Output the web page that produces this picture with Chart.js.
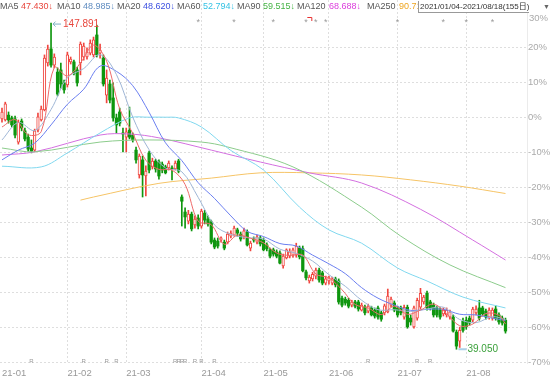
<!DOCTYPE html>
<html>
<head>
<meta charset="utf-8">
<script src="https://cdn.jsdelivr.net/npm/chart.js@4.4.1/dist/chart.umd.min.js"></script>
<style>
  body { margin: 0; background: #fff; }
  #wrap { position: relative; width: 553px; height: 378px; overflow: hidden;
          font-family: "Liberation Sans", Arial, "Noto Sans CJK SC", sans-serif; }
  #kChart { position: absolute; left: 0; top: 0; }
  .hd { position: absolute; top: 1px; font-size: 9px; line-height: 11px; white-space: nowrap; }
  .lbl { color: #555; }
  #range { position: absolute; left: 418px; top: 0; width: 135px; height: 13px; background: #fff; }
  #range span { position: absolute; top: 1px; font-size: 8px; line-height: 11px; white-space: nowrap; color: #333; }
  #range .box { left: 0; border-left: 1px solid #999; border-bottom: 1px solid #999; padding-left: 1px; }
  #range .arr { left: 125px; color: #666; font-size: 7px; top: 1px; }
</style>
</head>
<body>
<div id="wrap">
  <canvas id="kChart" width="553" height="378"></canvas>
  <div id="head"></div>
  <div id="range"><span class="box">2021/01/04-2021/08/18(155日)</span><span class="arr">▼</span></div>
</div>
<script>
// x axis: trading day index, month starts
const monthDays = [0, 20, 38, 61, 80, 100, 121, 142];
const monthLabels = ['21-01', '21-02', '21-03', '21-04', '21-05', '21-06', '21-07', '21-08'];
const yTicks = [-70, -60, -50, -40, -30, -20, -10, 0, 10, 20, 30];

// daily candles, % change
const openP = [-0.5, -0.8, 0.6, -0.2, -0.5, -7.1, -1.1, -3.9, -5.7, -8.8,
  -9.4, -3.7, -0.8, 2.1, 15.5, 19.5, 14.9, 12.9, 13.5, 9.8,
  9.2, 15.8, 15.8, 13.5, 15.5, 17.2, 17.2, 18.3, 17.8, 23.5,
  18.3, 16.9, 6.3, 9.5, 5.5, -0.2, 1.5, -4.5, -5.7, -3.7,
  -5.1, -9.4, -16.5, -12.2, -16.8, -10.2, -14.2, -12.5, -12.8, -13.4,
  -14.2, -14.5, -14.5, -14.8, -12.5, -22.8, -27.1, -29.7, -27.7, -30.8,
  -28.8, -31.1, -27.4, -29.1, -29.9, -35.1, -35.4, -35.1, -35.7, -35.7,
  -34.0, -33.7, -32.2, -33.4, -34.2, -32.8, -37.4, -34.8, -35.7, -34.5,
  -35.1, -36.5, -37.9, -37.9, -38.5, -38.8, -42.5, -40.2, -39.7, -39.4,
  -39.4, -37.4, -37.6, -44.2, -46.8, -46.2, -45.4, -43.7, -44.5, -47.4,
  -46.8, -47.4, -46.2, -46.8, -51.7, -52.0, -52.3, -53.7, -52.8, -52.8,
  -55.1, -54.2, -55.4, -54.5, -55.1, -54.5, -55.9, -55.9, -55.6, -53.7,
  -53.1, -54.5, -54.5, -57.1, -54.3, -57.4, -59.9, -57.4, -54.3, -52.8,
  -50.3, -52.8, -53.7, -54.5, -55.1, -56.2, -56.5, -57.1, -57.1, -61.4,
  -64.0, -58.3, -58.0, -57.4, -58.0, -55.9, -54.5, -54.5, -55.4, -57.1,
  -57.4, -54.8, -56.5, -57.4, -58.0];
const closeP = [1.5, 3.8, -0.8, -2.2, -5.1, -1.4, -3.1, -6.2, -9.1, -9.7,
  -3.9, 0.1, 2.3, 16.9, 19.5, 14.9, 17.2, 6.6, 9.5, 7.8,
  17.8, 16.6, 12.6, 9.8, 20.9, 20.3, 18.6, 21.2, 22.1, 17.8,
  19.2, 9.5, 11.2, 4.9, -0.2, -2.2, -1.7, -4.8, -4.2, -5.7,
  -6.5, -12.2, -11.1, -16.5, -15.4, -15.1, -12.5, -14.8, -16.8, -15.1,
  -15.9, -13.1, -14.8, -13.1, -15.4, -24.0, -28.5, -27.7, -31.9, -29.1,
  -31.1, -26.8, -29.4, -30.5, -35.7, -37.1, -36.8, -34.5, -37.4, -33.4,
  -33.1, -31.7, -33.1, -34.8, -32.5, -36.5, -36.0, -35.1, -34.2, -36.2,
  -37.9, -37.6, -39.7, -39.1, -39.7, -41.7, -39.7, -37.9, -38.5, -37.9,
  -36.8, -39.9, -43.9, -45.9, -45.7, -44.9, -43.7, -46.5, -47.4, -46.2,
  -45.9, -46.2, -47.9, -52.8, -53.7, -53.1, -54.0, -52.8, -54.0, -54.8,
  -53.7, -55.9, -54.0, -56.5, -56.8, -57.1, -57.7, -53.9, -51.1, -52.0,
  -55.1, -56.5, -55.9, -54.3, -59.9, -58.5, -54.5, -52.3, -50.3, -51.4,
  -54.5, -54.5, -56.5, -56.5, -57.1, -55.1, -55.1, -55.6, -61.1, -65.4,
  -60.9, -60.9, -59.9, -58.8, -54.8, -54.8, -57.4, -56.2, -57.1, -55.1,
  -55.1, -57.4, -58.5, -58.8, -61.1];
const highP = [2.6, 4.3, 1.5, 0.3, 0.3, -0.8, -0.5, -3.1, -4.8, -6.5,
  -3.4, 1.2, 3.2, 17.8, 20.6, 26.9, 18.1, 14.1, 15.5, 10.6,
  18.6, 17.2, 16.3, 14.3, 21.5, 21.2, 19.8, 22.1, 22.9, 26.3,
  20.9, 17.8, 13.5, 10.6, 9.8, 0.9, 2.6, -3.1, -3.1, 2.9,
  -4.5, -8.5, -10.5, -11.1, -13.9, -9.7, -11.7, -12.0, -12.2, -12.8,
  -13.7, -12.5, -13.9, -12.5, -12.0, -22.2, -25.9, -26.6, -27.1, -28.2,
  -27.9, -26.3, -26.6, -28.2, -29.4, -34.5, -34.5, -34.2, -35.1, -32.8,
  -32.5, -31.1, -31.7, -32.8, -31.7, -32.2, -35.4, -34.2, -33.7, -33.9,
  -34.5, -35.9, -37.4, -37.4, -37.9, -38.2, -39.1, -37.6, -37.6, -37.4,
  -36.0, -36.8, -36.8, -43.7, -45.1, -44.3, -43.1, -43.1, -44.0, -45.4,
  -45.4, -45.7, -45.7, -46.2, -51.1, -51.4, -51.7, -52.3, -52.3, -52.3,
  -53.1, -53.7, -53.4, -54.0, -54.5, -54.0, -55.4, -53.4, -49.1, -51.4,
  -52.5, -54.0, -54.0, -53.7, -53.7, -56.5, -54.0, -51.7, -48.9, -50.9,
  -49.7, -52.3, -53.1, -54.0, -54.5, -54.5, -54.5, -55.1, -56.5, -60.8,
  -60.0, -57.4, -57.1, -56.8, -54.3, -53.9, -52.3, -54.0, -54.8, -54.5,
  -54.5, -53.9, -55.9, -56.8, -57.4];
const lowP = [-1.4, -1.1, -1.7, -2.8, -5.9, -7.7, -3.9, -6.8, -9.7, -10.2,
  -9.9, -4.2, -1.1, 1.8, 14.6, 14.3, 14.1, 6.1, 8.3, 6.9,
  8.6, 15.2, 12.1, 8.9, 12.1, 16.3, 16.6, 17.8, 17.2, 17.2,
  16.9, 8.9, 4.1, 4.1, -1.1, -4.5, -2.5, -9.9, -9.9, -6.2,
  -7.1, -13.1, -17.4, -22.8, -22.5, -15.9, -14.8, -15.7, -17.7, -15.9,
  -16.2, -15.1, -17.9, -15.1, -15.9, -31.1, -31.7, -30.5, -32.5, -31.7,
  -31.9, -31.7, -30.5, -31.1, -36.2, -37.6, -37.4, -35.7, -37.9, -36.2,
  -34.5, -34.0, -34.0, -35.4, -34.8, -36.8, -38.2, -35.7, -36.2, -36.8,
  -38.2, -38.2, -40.2, -39.7, -40.2, -41.9, -43.1, -40.5, -40.2, -40.0,
  -40.0, -40.5, -44.2, -46.5, -47.4, -46.8, -46.2, -47.1, -47.9, -47.9,
  -47.7, -47.9, -48.5, -53.4, -54.2, -53.7, -54.5, -54.2, -54.5, -55.4,
  -55.4, -56.5, -55.9, -56.8, -57.4, -57.7, -58.3, -56.5, -55.9, -54.2,
  -55.6, -57.1, -56.5, -57.7, -60.3, -59.4, -60.3, -58.0, -54.8, -53.4,
  -55.1, -55.1, -57.1, -57.1, -57.7, -56.8, -57.1, -57.7, -61.4, -66.3,
  -65.8, -61.4, -60.6, -59.4, -58.5, -56.5, -58.0, -56.8, -57.7, -57.7,
  -58.0, -58.0, -59.1, -59.4, -61.7];

// moving averages (day index, %)
const ma5Days = [0, 4, 8, 12, 16, 20, 24, 28, 32, 36, 40, 44, 48, 52, 56, 60, 64, 68, 72, 76,
  80, 84, 88, 92, 96, 100, 104, 108, 112, 116, 120, 124, 128, 132, 136, 140, 144, 148, 152, 154];
const ma5 = [-2.8, -0.7, -5.0, -4.1, 14.2, 11.8, 15.5, 20.6, 16.0, 2.4, -4.6, -12.3, -14.9, -15.1, -19.2,
  -29.7, -30.7, -36.3, -33.7, -34.6, -35.9, -38.8, -39.5, -39.4, -44.8, -45.9, -49.3, -53.5, -54.5,
  -56.4, -54.0, -56.3, -55.1, -53.4, -56.1, -59.6, -59.1, -56.1, -56.6, -59.1];
const maDays = [0, 5, 10, 15, 20, 25, 30, 35, 40, 45, 50, 55, 60, 65, 70, 75, 80, 85, 90, 95,
  100, 105, 110, 115, 120, 125, 130, 135, 140, 145, 150, 154];
const ma10 = [-6.5, -1.5, -3.8, 2.2, 11.3, 13.9, 17.9, 12.2, 0.0, -9.3, -14.5, -15.6, -22.9, -30.8,
  -33.5, -34.4, -34.8, -37.7, -38.9, -41.1, -45.0, -48.3, -52.3, -55.0, -55.0, -55.5, -54.8, -54.3,
  -57.8, -58.7, -57.0, -57.8];
const ma20 = [-12.2, -9.4, -7.4, -2.2, 3.7, 8.0, 14.6, 13.1, 9.0, 1.4, -7.3, -12.4, -18.7, -23.2,
  -28.2, -32.6, -34.1, -36.1, -36.8, -39.4, -41.9, -44.7, -48.7, -51.7, -53.7, -55.2, -54.9, -54.9,
  -56.3, -56.5, -57.4, -58.1];
const ma60Days = [0, 12, 20, 30, 39, 45, 50, 54, 61, 70, 80, 91, 100, 110, 121, 130, 141, 154];
const ma60 = [-14.0, -14.2, -10.2, -4.5, -0.2, 0.0, 0.0, -0.2, -2.8, -9.5, -15.1, -25.7, -32.2,
  -36.0, -43.1, -46.8, -51.4, -54.5];
const ma90Days = [0, 10, 30, 45, 61, 69, 89, 110, 122, 137, 154];
const ma90 = [-8.8, -9.9, -7.1, -6.5, -7.1, -8.5, -14.2, -25.7, -34.0, -42.2, -48.7];
const ma120Days = [0, 10, 30, 39, 48, 64, 79, 94, 110, 128, 144, 154];
const ma120 = [-10.8, -9.9, -5.1, -4.8, -5.9, -9.4, -12.8, -15.9, -18.8, -26.3, -35.1, -40.8];
const ma250Days = [24, 28, 48, 64, 79, 94, 110, 125, 140, 154];
const ma250 = [-23.7, -22.8, -18.9, -17.4, -15.9, -15.9, -16.5, -17.9, -19.7, -21.8];

// header legend
const maNames = ['MA5', 'MA10', 'MA20', 'MA60', 'MA90', 'MA120', 'MA250'];
const maLast = ['47.430', '48.985', '48.620', '52.794', '59.515', '68.688', '90.718'];

// event markers and extreme labels
const starDays = [60, 71, 83, 93, 96, 99, 121, 135, 142, 150];
const rDays = [9, 25, 32, 35, 53, 54, 55, 56, 59, 61, 65, 112, 127, 131];
const hiLabel = '147.891';
const loLabel = '39.050';

const upColor = '#f0463f';
const downColor = '#0e960e';
const maColors = ['#ee6a6a', '#9fb6d6', '#6b7ff0', '#80d8ef', '#8ccc8c', '#d470e0', '#f6c466'];
const maValColors = ['#e8453c', '#5f8cc0', '#3c50e0', '#35c2e4', '#44b344', '#dc3cdc', '#eea520'];

// header
const head = document.getElementById('head');
const lblX = [0, 57, 117, 177, 237, 297, 367];
const valX = [21, 83, 143, 203, 263, 329, 399];
maNames.forEach((n, k) => {
  const a = document.createElement('span');
  a.className = 'hd lbl';
  a.style.left = lblX[k] + 'px';
  a.textContent = n;
  head.appendChild(a);
  const b = document.createElement('span');
  b.className = 'hd';
  b.style.left = valX[k] + 'px';
  b.style.color = maValColors[k];
  b.textContent = maLast[k] + '↓';
  head.appendChild(b);
});

const days = closeP.map((c, i) => i);
const isUp = i => closeP[i] >= openP[i];
const pts = (xs, ys) => xs.map((d, k) => ({x: d, y: ys[k]}));

function maSet(label, xs, ys, color) {
  return {
    type: 'line', label: label, data: pts(xs, ys), borderColor: color, borderWidth: 1,
    pointRadius: 0, tension: 0.35, order: 0
  };
}

const markPlugin = {
  id: 'marks',
  afterDatasetsDraw(chart) {
    const {ctx, scales: {x, y}} = chart;
    ctx.save();
    ctx.textBaseline = 'middle';

    ctx.fillStyle = '#9a9a9a';
    ctx.font = '9px "Liberation Sans"';
    ctx.textAlign = 'center';
    starDays.forEach(d => ctx.fillText('*', x.getPixelForValue(d), 23));
    ctx.font = '6px "Liberation Sans"';
    rDays.forEach(d => ctx.fillText('R', x.getPixelForValue(d), 361));

    // small red flag
    const fx = x.getPixelForValue(94);
    ctx.strokeStyle = '#e83030';
    ctx.lineWidth = 1;
    ctx.beginPath();
    ctx.moveTo(fx - 2, 17.5); ctx.lineTo(fx + 2.5, 17.5); ctx.lineTo(fx + 2.5, 21);
    ctx.stroke();

    // 30% label sits just under the header
    ctx.textAlign = 'left';
    ctx.fillStyle = '#aaa';
    ctx.font = '9.5px "Liberation Sans"';
    ctx.fillText('30%', 529, 18);

    // highest and lowest price
    const hi = highP.indexOf(Math.max(...highP));
    const lo = lowP.indexOf(Math.min(...lowP));
    let px = x.getPixelForValue(hi), py = y.getPixelForValue(highP[hi]) + 1;
    ctx.strokeStyle = '#7fb0c4';
    ctx.beginPath();
    ctx.moveTo(px + 10, py); ctx.lineTo(px + 2, py);
    ctx.moveTo(px + 4.5, py - 2.5); ctx.lineTo(px + 2, py); ctx.lineTo(px + 4.5, py + 2.5);
    ctx.stroke();
    ctx.fillStyle = '#e8453c';
    ctx.font = '10px "Liberation Sans"';
    ctx.fillText(hiLabel, px + 12, py);

    px = x.getPixelForValue(lo); py = y.getPixelForValue(lowP[lo]);
    ctx.strokeStyle = '#a9d0e8';
    ctx.lineWidth = 2;
    ctx.beginPath();
    ctx.moveTo(px + 2, py); ctx.lineTo(px + 10, py);
    ctx.stroke();
    ctx.fillStyle = '#3aa03a';
    ctx.fillText(loLabel, px + 11, py);
    ctx.restore();
  }
};

new Chart(document.getElementById('kChart'), {
  type: 'bar',
  data: {
    datasets: [
      maSet('MA5', ma5Days, ma5, maColors[0]),
      maSet('MA10', maDays, ma10, maColors[1]),
      maSet('MA20', maDays, ma20, maColors[2]),
      maSet('MA60', ma60Days, ma60, maColors[3]),
      maSet('MA90', ma90Days, ma90, maColors[4]),
      maSet('MA120', ma120Days, ma120, maColors[5]),
      maSet('MA250', ma250Days, ma250, maColors[6]),
      {
        label: 'body',
        data: days.map(i => ({x: i, y: [openP[i], closeP[i]]})),
        grouped: false, barThickness: 2.6, order: 1, borderSkipped: false,
        backgroundColor: c => isUp(c.dataIndex) ? '#ffffff' : downColor,
        borderColor: c => isUp(c.dataIndex) ? upColor : downColor,
        borderWidth: c => isUp(c.dataIndex) ? 1 : 0
      },
      {
        label: 'wick',
        data: days.map(i => ({x: i, y: [lowP[i], highP[i]]})),
        grouped: false, barThickness: 1, order: 2, borderSkipped: false,
        backgroundColor: c => isUp(c.dataIndex) ? upColor : downColor
      }
    ]
  },
  options: {
    responsive: false,
    animation: false,
    devicePixelRatio: 1,
    layout: {padding: 0},
    plugins: {legend: {display: false}, tooltip: {enabled: false}},
    scales: {
      x: {
        type: 'linear', min: -0.61, max: 160.58, offset: false,
        grid: {offset: false, drawTicks: false, color: c => c.index === 0 ? 'rgba(0,0,0,0)' : '#dedede'},
        border: {display: false, dash: [2, 2]},
        ticks: {
          align: 'start', padding: 5, color: '#999', maxRotation: 0, autoSkip: false,
          font: {family: 'Liberation Sans', size: 9.5},
          callback: (v, i) => monthLabels[i]
        },
        afterBuildTicks: s => { s.ticks = monthDays.map(v => ({value: v})); },
        afterFit: s => { s.height = 15; s.paddingLeft = 0; s.paddingRight = 0; }
      },
      y: {
        type: 'linear', position: 'right', min: -70.23, max: 33.49,
        grid: {drawTicks: false, color: c => (c.tick && c.tick.value === 30) ? 'rgba(0,0,0,0)' : '#dedede'},
        border: {display: true, color: '#ebebeb', dash: [2, 2]},
        ticks: {
          padding: 1, color: '#aaa', font: {family: 'Liberation Sans', size: 9.5},
          callback: v => v === 30 ? '' : v + '%'
        },
        afterBuildTicks: s => { s.ticks = yTicks.map(v => ({value: v})); },
        afterFit: s => { s.width = 26; s.paddingTop = 0; s.paddingBottom = 0; }
      }
    }
  },
  plugins: [markPlugin]
});
</script>
</body>
</html>
